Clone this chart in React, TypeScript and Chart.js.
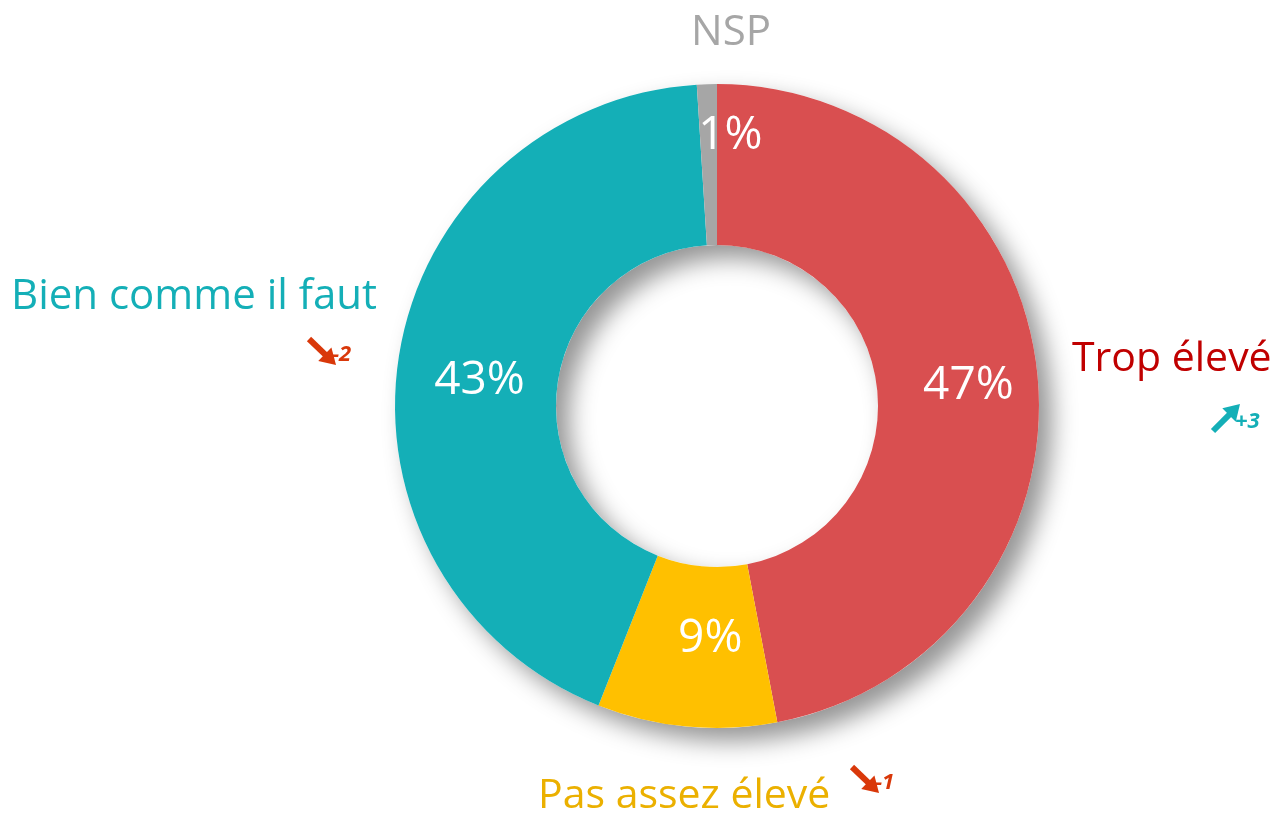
import React, { useEffect, useRef } from "react";
import { Chart, registerables } from "chart.js";

Chart.register(...registerables);

const categories = ["Trop élevé", "Pas assez élevé", "Bien comme il faut", "NSP"];
const values = [47, 9, 43, 1];
const trends = ["+3", "-1", "-2", ""];
const sliceColors = ["#D94F50", "#FFC000", "#14AFB7", "#A6A6A6"];
const labelColors = ["#C00000", "#EBB000", "#14AFB7", "#A6A6A6"];

const FONT = "'Open Sans', 'Noto Sans', sans-serif";

const shadowPlugin = {
  id: "ringShadow",
  beforeDatasetsDraw(chart: any) {
    const meta = chart.getDatasetMeta(0);
    const first = meta.data[0];
    if (!first) return;
    const { x, y, outerRadius, innerRadius } = first as any;
    const ctx = chart.ctx;
    ctx.save();
    ctx.shadowColor = "rgba(0,0,0,0.42)";
    ctx.shadowBlur = 24;
    ctx.shadowOffsetX = 13;
    ctx.shadowOffsetY = 13;
    ctx.beginPath();
    ctx.arc(x, y, outerRadius, 0, Math.PI * 2, false);
    ctx.arc(x, y, innerRadius, 0, Math.PI * 2, true);
    ctx.closePath();
    ctx.fillStyle = "#ffffff";
    ctx.fill();
    ctx.restore();
  },
};

const nudges = [
  [11, 3],
  [16, -8],
  [1, 13],
  [21, -29],
];

function drawArrow(ctx: CanvasRenderingContext2D, x1: number, y1: number, x2: number, y2: number, color: string) {
  const ang = Math.atan2(y2 - y1, x2 - x1);
  const head = 14;
  ctx.save();
  ctx.strokeStyle = color;
  ctx.fillStyle = color;
  ctx.lineWidth = 6;
  ctx.lineCap = "butt";
  ctx.beginPath();
  ctx.moveTo(x1, y1);
  ctx.lineTo(x2 - Math.cos(ang) * head * 0.7, y2 - Math.sin(ang) * head * 0.7);
  ctx.stroke();
  ctx.beginPath();
  ctx.moveTo(x2, y2);
  ctx.lineTo(x2 - Math.cos(ang - 0.55) * head * 1.3, y2 - Math.sin(ang - 0.55) * head * 1.3);
  ctx.lineTo(x2 - Math.cos(ang + 0.55) * head * 1.3, y2 - Math.sin(ang + 0.55) * head * 1.3);
  ctx.closePath();
  ctx.fill();
  ctx.restore();
}

const labelPlugin = {
  id: "sliceLabels",
  afterDatasetsDraw(chart: any) {
    const ctx: CanvasRenderingContext2D = chart.ctx;
    const meta = chart.getDatasetMeta(0);
    ctx.save();
    ctx.fillStyle = "#ffffff";
    ctx.font = `46px ${FONT}`;
    ctx.textAlign = "center";
    ctx.textBaseline = "middle";
    meta.data.forEach((arc: any, i: number) => {
      const p = arc.getCenterPoint();
      ctx.fillText(`${values[i]}%`, p.x + nudges[i][0], p.y + nudges[i][1]);
    });
    ctx.restore();

    // Category labels
    ctx.save();
    ctx.textBaseline = "alphabetic";
    ctx.textAlign = "left";
    ctx.font = `41px ${FONT}`;
    ctx.fillStyle = labelColors[0];
    ctx.fillText(categories[0], 1072, 371);
    ctx.fillStyle = labelColors[1];
    ctx.fillText(categories[1], 538, 808);
    ctx.font = `42px ${FONT}`;
    ctx.fillStyle = labelColors[2];
    ctx.fillText(categories[2], 11, 309);
    ctx.fillStyle = labelColors[3];
    ctx.textAlign = "center";
    ctx.fillText(categories[3], 731, 45);
    ctx.restore();

    // Trends
    ctx.save();
    ctx.font = `italic bold 22px ${FONT}`;
    ctx.textAlign = "left";
    ctx.textBaseline = "alphabetic";
    const down = "#D9380A";
    const up = "#14AFB7";
    drawArrow(ctx, 1213, 431, 1240, 404, up);
    ctx.fillStyle = up;
    ctx.fillText(trends[0], 1235, 428);
    drawArrow(ctx, 852, 767, 879, 793, down);
    ctx.fillStyle = down;
    ctx.fillText(trends[1], 875, 789);
    drawArrow(ctx, 309, 339, 336, 365, down);
    ctx.fillStyle = down;
    ctx.fillText(trends[2], 332, 361);
    ctx.restore();
  },
};

export default function App() {
  const ref = useRef<HTMLCanvasElement | null>(null);
  useEffect(() => {
    document.body.style.margin = "0";
    const canvas = ref.current;
    if (!canvas) return;
    const chart = new Chart(canvas, {
      type: "doughnut",
      data: {
        labels: categories,
        datasets: [
          {
            data: values,
            backgroundColor: sliceColors,
            borderWidth: 0,
            hoverOffset: 0,
          },
        ],
      },
      options: {
        responsive: false,
        animation: false,
        cutout: "50%",
        rotation: 0,
        layout: { padding: { left: 395, right: 238, top: 84, bottom: 86 } },
        plugins: {
          legend: { display: false },
          tooltip: { enabled: false },
        },
      },
      plugins: [shadowPlugin, labelPlugin],
    });
    return () => chart.destroy();
  }, []);
  return (
    <div style={{ width: 1277, height: 814, background: "#ffffff" }}>
      <canvas ref={ref} width={1277} height={814} style={{ display: "block" }} />
    </div>
  );
}
